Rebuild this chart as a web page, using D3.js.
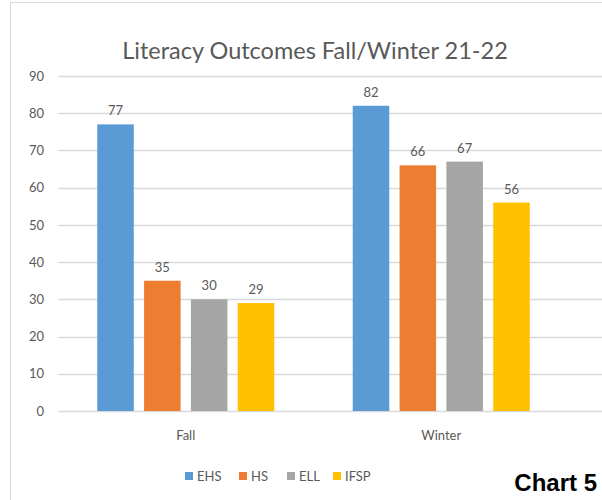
<!DOCTYPE html>
<html>
<head>
<meta charset="utf-8">
<title>Literacy Outcomes</title>
<script src="https://d3js.org/d3.v7.min.js"></script>
<style>
  body { margin: 0; background: #fff; }
  svg { display: block; }
</style>
</head>
<body>
<div id="chart"></div>
<script>
// data
var categories = ["Fall", "Winter"];
var series = ["EHS", "HS", "ELL", "IFSP"];
var fallValues = [77, 35, 30, 29];
var winterValues = [82, 66, 67, 56];
var yTicks = [0, 10, 20, 30, 40, 50, 60, 70, 80, 90];
var colors = ["#5B9BD5", "#ED7D31", "#A5A5A5", "#FFC000"];

var values = { "Fall": fallValues, "Winter": winterValues };

var W = 602, H = 500;
var plot = { left: 58, right: 569, top: 76, bottom: 411 };
var textColor = "#595959";
var font = "Lato, 'Open Sans', sans-serif";

var svg = d3.select("#chart").append("svg")
  .attr("width", W)
  .attr("height", H);

svg.append("rect").attr("width", W).attr("height", H).attr("fill", "#fff");

// outer frame (cropped on right and bottom)
svg.append("path")
  .attr("d", "M10.5," + H + "V2.5H" + W)
  .attr("fill", "none")
  .attr("stroke", "#d9d9d9")
  .attr("stroke-width", 1);

// title
svg.append("text")
  .attr("x", 315)
  .attr("y", 59)
  .attr("text-anchor", "middle")
  .attr("font-family", font)
  .attr("font-size", 23.5)
  .attr("fill", textColor)
  .text("Literacy Outcomes Fall/Winter 21-22");

var y = d3.scaleLinear()
  .domain([0, 90])
  .range([plot.bottom, plot.top]);

var x0 = d3.scaleBand()
  .domain(categories)
  .range([plot.left, plot.right])
  .padding(0);

var x1 = d3.scaleBand()
  .domain(series)
  .range([x0.bandwidth() * 0.1536, x0.bandwidth() * 0.8464])
  .paddingInner(0.22)
  .paddingOuter(0);

// gridlines
svg.append("g")
  .selectAll("line")
  .data(yTicks)
  .enter()
  .append("line")
    .attr("x1", plot.left)
    .attr("x2", W)
    .attr("y1", function(d) { return Math.round(y(d)) + 0.5; })
    .attr("y2", function(d) { return Math.round(y(d)) + 0.5; })
    .attr("stroke", "#d9d9d9")
    .attr("stroke-width", 1.5);

// y axis labels
var yAxis = svg.append("g")
  .attr("transform", "translate(" + (plot.left - 14) + ",0)")
  .call(d3.axisLeft(y).tickValues(yTicks).tickSize(0).tickPadding(0));
yAxis.select(".domain").remove();
yAxis.selectAll("text")
  .attr("font-family", font)
  .attr("font-size", 13)
  .attr("fill", textColor);

// x axis labels
var xAxis = svg.append("g")
  .attr("transform", "translate(0," + plot.bottom + ")")
  .call(d3.axisBottom(x0).tickSize(0).tickPadding(20));
xAxis.select(".domain").remove();
xAxis.selectAll("text")
  .attr("font-family", font)
  .attr("font-size", 13)
  .attr("fill", textColor);

// bars
var groups = svg.append("g")
  .selectAll("g")
  .data(categories)
  .enter()
  .append("g")
    .attr("transform", function(c) { return "translate(" + x0(c) + ",0)"; });

groups.selectAll("rect")
  .data(function(c) {
    return series.map(function(s, i) { return { s: s, v: values[c][i], i: i }; });
  })
  .enter()
  .append("rect")
    .attr("x", function(d) { return x1(d.s); })
    .attr("y", function(d) { return y(d.v); })
    .attr("width", x1.bandwidth())
    .attr("height", function(d) { return y(0) - y(d.v); })
    .attr("fill", function(d) { return colors[d.i]; });

groups.selectAll("text")
  .data(function(c) {
    return series.map(function(s, i) { return { s: s, v: values[c][i], i: i }; });
  })
  .enter()
  .append("text")
    .attr("x", function(d) { return x1(d.s) + x1.bandwidth() / 2; })
    .attr("y", function(d) { return y(d.v) - 9; })
    .attr("text-anchor", "middle")
    .attr("font-family", font)
    .attr("font-size", 13)
    .attr("fill", textColor)
    .text(function(d) { return d.v; });

// legend
var legendX = [185, 239, 287, 333];
var legend = svg.append("g")
  .selectAll("g")
  .data(series)
  .enter()
  .append("g")
    .attr("transform", function(d, i) { return "translate(" + legendX[i] + ",472)"; });
legend.append("rect")
  .attr("width", 8)
  .attr("height", 8)
  .attr("fill", function(d, i) { return colors[i]; });
legend.append("text")
  .attr("x", 12)
  .attr("y", 9)
  .attr("font-family", font)
  .attr("font-size", 13)
  .attr("fill", textColor)
  .text(function(d) { return d; });

// caption
svg.append("text")
  .attr("x", 597)
  .attr("y", 491)
  .attr("text-anchor", "end")
  .attr("font-family", "'Liberation Sans', Arial, sans-serif")
  .attr("font-weight", "bold")
  .attr("font-size", 24)
  .attr("fill", "#000")
  .text("Chart 5");
</script>
</body>
</html>
